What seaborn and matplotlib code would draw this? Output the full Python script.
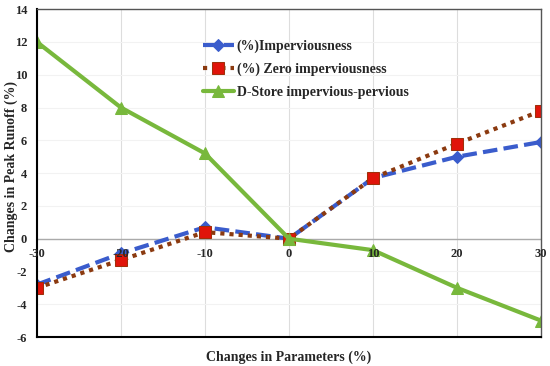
import numpy as np
import pandas as pd
import seaborn as sns
import matplotlib.pyplot as plt

params = [-30, -20, -10, 0, 10, 20, 30]
imperv = [-2.8, -0.9, 0.7, 0.0, 3.7, 5.0, 5.9]
zero_imperv = [-3.0, -1.3, 0.4, 0.0, 3.7, 5.8, 7.8]
dstore = [12.0, 8.0, 5.2, 0.0, -0.7, -3.0, -5.0]

sns.set_style("white")
plt.rcParams['font.family'] = ['Liberation Serif', 'DejaVu Serif']
plt.rcParams['font.weight'] = 'bold'
plt.rcParams['axes.unicode_minus'] = False

fig = plt.figure(figsize=(5.5, 3.66), dpi=100)
ax = fig.add_axes([0.067, 0.079, 0.917, 0.896])

sns.lineplot(x=params, y=imperv, ax=ax, color='#3a5ccc', lw=3,
             linestyle=(0, (3.5, 1.5)), marker='D', markersize=6,
             markeredgecolor='#3a5ccc', label='(%)Imperviousness')
sns.lineplot(x=params, y=zero_imperv, ax=ax, color='#8b3a10', lw=3,
             linestyle=(0, (1, 1.2)), marker='s', markersize=8,
             markerfacecolor='#e0140a', markeredgecolor='#a0300a',
             label='(%) Zero imperviousness')
sns.lineplot(x=params, y=dstore, ax=ax, color='#78b83c', lw=3,
             marker='^', markersize=9, markeredgecolor='#78b83c',
             label='D-Store impervious-pervious')

ax.set_xlim(-30, 30)
ax.set_ylim(-6, 14)
ax.set_yticks(np.arange(-6, 15, 2))
ax.set_xticks([-30, -20, -10, 0, 10, 20, 30])
ax.grid(axis='x', color='#dddddd', lw=0.8)
ax.grid(axis='y', color='#f2f2f2', lw=0.8)
ax.axhline(0, color='#aaaaaa', lw=1, zorder=1)
ax.tick_params(axis='x', labelbottom=False, length=0)
ax.tick_params(axis='y', labelsize=9, length=0, pad=7)

sec = ax.secondary_xaxis(0.3)
sec.set_xticks([-30, -20, -10, 0, 10, 20, 30])
sec.tick_params(length=0, labelsize=9, pad=7)
sec.spines['bottom'].set_visible(False)
sec.set_zorder(5)

for side in ['left', 'bottom']:
    ax.spines[side].set_color('black')
    ax.spines[side].set_linewidth(1.5)
for side in ['top', 'right']:
    ax.spines[side].set_color('#555555')
    ax.spines[side].set_linewidth(1)

ax.set_ylabel('Changes in Peak Runoff (%)', fontsize=10, fontweight='bold')
ax.yaxis.set_label_coords(-0.038, 0.52)
ax.set_xlabel('Changes in Parameters (%)', fontsize=10, fontweight='bold', labelpad=10)

ax.legend(loc='upper left', bbox_to_anchor=(0.305, 0.945), frameon=False,
          prop={'size': 10, 'weight': 'bold'}, handlelength=2.2,
          handletextpad=0.2, labelspacing=0.7)

fig.savefig('out.png', dpi=100)
